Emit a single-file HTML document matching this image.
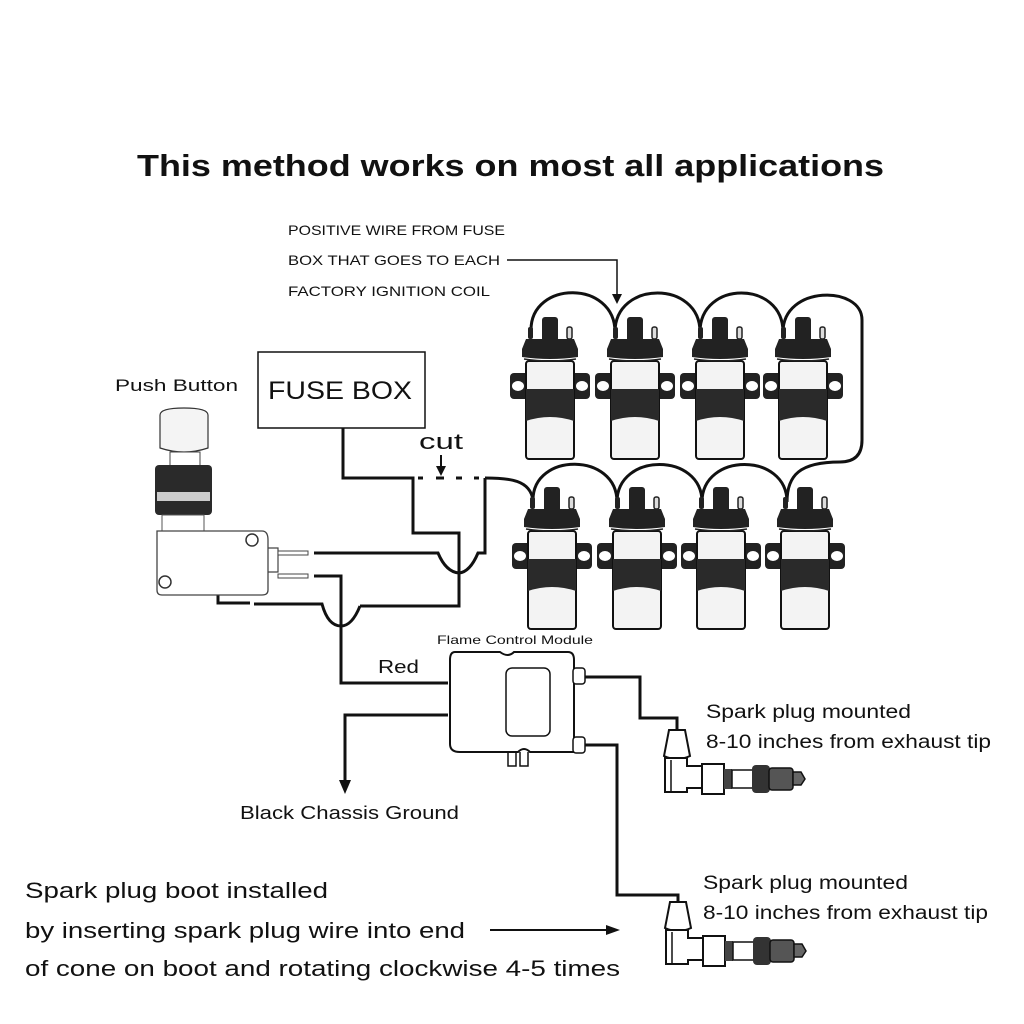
<!DOCTYPE html>
<html><head><meta charset="utf-8"><style>
html,body{margin:0;padding:0;background:#fff;}
svg{display:block;}
text{font-family:"Liberation Sans","DejaVu Sans",sans-serif;fill:#111;}
</style></head><body>
<svg width="1024" height="1024" viewBox="0 0 1024 1024" xmlns="http://www.w3.org/2000/svg">
<defs>
<g id="coil">
  <rect x="-40" y="56" width="80" height="26" rx="4" fill="#222"/>
  <ellipse cx="-32" cy="69" rx="6" ry="5" fill="#fff"/>
  <ellipse cx="32" cy="69" rx="6" ry="5" fill="#fff"/>
  <rect x="-24" y="44" width="48" height="98" rx="3" fill="#f3f3f3" stroke="#111" stroke-width="2"/>
  <path d="M-24 72 H24 V104 Q0 96 -24 104 Z" fill="#2a2a2a"/>
  <rect x="-8" y="0" width="16" height="30" rx="3" fill="#222"/>
  <rect x="-22" y="10" width="5" height="12" rx="2" fill="#222"/>
  <rect x="17" y="10" width="5" height="12" rx="2" fill="#ddd" stroke="#222" stroke-width="1.5"/>
  <path d="M-24 22 H24 L28 32 V40 Q0 44 -28 40 V32 Z" fill="#222"/>
  <path d="M-26 42 Q0 46 26 42" fill="none" stroke="#222" stroke-width="1.5"/>
</g>
<g id="plug">
  <path d="M-8 0 H8 L13 26 Q0 32 -13 26 Z" fill="#fff" stroke="#111" stroke-width="2"/>
  <path d="M-12 28 H10 V36 H25 V58 H10 V62 H-12 Z" fill="#fff" stroke="#111" stroke-width="2"/>
  <line x1="-6" y1="30" x2="-6" y2="62" stroke="#111" stroke-width="1.5"/>
  <rect x="25" y="34" width="22" height="30" fill="#fff" stroke="#111" stroke-width="2"/>
  <rect x="47" y="39" width="8" height="20" fill="#444"/>
  <rect x="55" y="40" width="22" height="18" fill="#fff" stroke="#111" stroke-width="1.5"/>
  <rect x="75" y="35" width="18" height="28" rx="4" fill="#333"/>
  <rect x="92" y="38" width="24" height="22" rx="3" fill="#555" stroke="#111" stroke-width="1.5"/>
  <path d="M116 42 H124 L128 49 L124 55 H116 Z" fill="#666" stroke="#111" stroke-width="1.5"/>
</g>
</defs>

<text x="137" y="176" font-size="31" font-weight="bold" textLength="747" lengthAdjust="spacingAndGlyphs">This method works on most all applications</text>

<text x="288" y="235" font-size="14" textLength="217" lengthAdjust="spacingAndGlyphs">POSITIVE WIRE FROM FUSE</text>
<text x="288" y="265" font-size="14" textLength="212" lengthAdjust="spacingAndGlyphs">BOX THAT GOES TO EACH</text>
<text x="288" y="296" font-size="14" textLength="202" lengthAdjust="spacingAndGlyphs">FACTORY IGNITION COIL</text>
<path d="M507 260 H617 V296" fill="none" stroke="#111" stroke-width="1.5"/>
<path d="M612 294 L617 304 L622 294 Z" fill="#111"/>

<g fill="none" stroke="#111" stroke-width="3">
  <path d="M531 330 C531 280 615 280 615 332"/>
  <path d="M615 332 C615 280 700 280 700 332"/>
  <path d="M700 332 C700 280 783 280 783 332"/>
  <path d="M783 332 C783 285 862 285 862 320 V440 Q862 462 840 462 C800 462 787 475 787 502"/>
  <path d="M533 500 C533 452 617 452 617 502"/>
  <path d="M617 502 C617 452 702 452 702 502"/>
  <path d="M702 502 C702 452 787 452 787 502"/>
  <path d="M485 478 C510 478 530 480 533 500"/>
</g>

<use href="#coil" x="550" y="317"/>
<use href="#coil" x="635" y="317"/>
<use href="#coil" x="720" y="317"/>
<use href="#coil" x="803" y="317"/>
<use href="#coil" x="552" y="487"/>
<use href="#coil" x="637" y="487"/>
<use href="#coil" x="721" y="487"/>
<use href="#coil" x="805" y="487"/>

<rect x="258" y="352" width="167" height="76" fill="#fff" stroke="#111" stroke-width="1.5"/>
<text x="268" y="399" font-size="25" textLength="144" lengthAdjust="spacingAndGlyphs">FUSE  BOX</text>
<text x="115" y="391" font-size="17" textLength="123" lengthAdjust="spacingAndGlyphs">Push Button</text>
<text x="419" y="449" font-size="22" textLength="44" lengthAdjust="spacingAndGlyphs">cut</text>
<path d="M441 455 V470" stroke="#111" stroke-width="2"/>
<path d="M436 466 L441 476 L446 466 Z" fill="#111"/>

<g fill="none" stroke="#111" stroke-width="3">
  <path d="M343 428 V478 H413 V533 H459 V606 H360"/>
  <path d="M418 478 H423 M436 478 H444 M456 478 H462 M474 478 H479" />
  <path d="M485 478 V553 H478 Q470 572 459 573 Q446 572 438 553 H314"/>
  <path d="M314 576 H341 V683 H448"/>
  <path d="M254 604 H322 Q328 626 341 626 Q352 626 360 606"/>
  <path d="M218 594 V603 H250"/>
  <path d="M448 715 H345 V784"/>
  <path d="M584 677 H640 V718 H677 V730"/>
  <path d="M584 745 H617 V895 H678 V902"/>
</g>
<path d="M339 780 L345 794 L351 780 Z" fill="#111"/>
<text x="378" y="673" font-size="18" textLength="41" lengthAdjust="spacingAndGlyphs">Red</text>
<text x="240" y="819" font-size="18" textLength="219" lengthAdjust="spacingAndGlyphs">Black Chassis Ground</text>

<path d="M160 415 Q160 408 184 408 Q208 408 208 415 V448 Q184 456 160 448 Z" fill="#f4f4f4" stroke="#333" stroke-width="1.2"/>
<rect x="170" y="452" width="30" height="14" fill="#fff" stroke="#444" stroke-width="1"/>
<rect x="155" y="465" width="57" height="50" rx="4" fill="#2a2a2a"/>
<rect x="157" y="492" width="53" height="9" fill="#ccc"/>
<rect x="162" y="515" width="42" height="16" fill="#fff" stroke="#555" stroke-width="1"/>
<path d="M157 531 H262 Q268 531 268 540 V590 Q268 595 262 595 H162 Q157 595 157 590 Z" fill="#fff" stroke="#444" stroke-width="1.3"/>
<circle cx="252" cy="540" r="6" fill="#fff" stroke="#333" stroke-width="1.5"/>
<circle cx="165" cy="582" r="6" fill="#fff" stroke="#333" stroke-width="1.5"/>
<path d="M268 548 H278 V572 H268" fill="none" stroke="#444" stroke-width="1.2"/>
<rect x="278" y="551" width="30" height="4" fill="#fff" stroke="#444" stroke-width="1"/>
<rect x="278" y="574" width="30" height="4" fill="#fff" stroke="#444" stroke-width="1"/>

<text x="437" y="644" font-size="12" textLength="156" lengthAdjust="spacingAndGlyphs">Flame Control Module</text>
<path d="M455 652 H500 Q508 658 514 652 H568 Q574 652 574 660 V752 H530 Q524 746 518 752 H460 Q450 752 450 744 V660 Q450 652 455 652 Z" fill="#fff" stroke="#111" stroke-width="2"/>
<rect x="506" y="668" width="44" height="68" rx="6" fill="#fff" stroke="#111" stroke-width="1.5"/>
<rect x="573" y="668" width="12" height="16" rx="3" fill="#fff" stroke="#111" stroke-width="1.5"/>
<rect x="573" y="737" width="12" height="16" rx="3" fill="#fff" stroke="#111" stroke-width="1.5"/>
<path d="M508 752 V766 H516 V752 M520 752 V766 H528 V752" fill="none" stroke="#111" stroke-width="1.5"/>

<use href="#plug" x="677" y="730"/>
<use href="#plug" x="678" y="902"/>

<text x="706" y="718" font-size="19" textLength="205" lengthAdjust="spacingAndGlyphs">Spark plug mounted</text>
<text x="706" y="748" font-size="19" textLength="285" lengthAdjust="spacingAndGlyphs">8-10 inches from exhaust tip</text>
<text x="703" y="889" font-size="19" textLength="205" lengthAdjust="spacingAndGlyphs">Spark plug mounted</text>
<text x="703" y="919" font-size="19" textLength="285" lengthAdjust="spacingAndGlyphs">8-10 inches from exhaust tip</text>

<text x="25" y="898" font-size="22" textLength="303" lengthAdjust="spacingAndGlyphs">Spark plug boot installed</text>
<text x="25" y="938" font-size="22" textLength="440" lengthAdjust="spacingAndGlyphs">by inserting spark plug wire into end</text>
<text x="25" y="976" font-size="22" textLength="595" lengthAdjust="spacingAndGlyphs">of cone on boot and rotating clockwise 4-5 times</text>
<path d="M490 930 H610" stroke="#111" stroke-width="2"/>
<path d="M606 925 L620 930 L606 935 Z" fill="#111"/>
</svg>
</body></html>
